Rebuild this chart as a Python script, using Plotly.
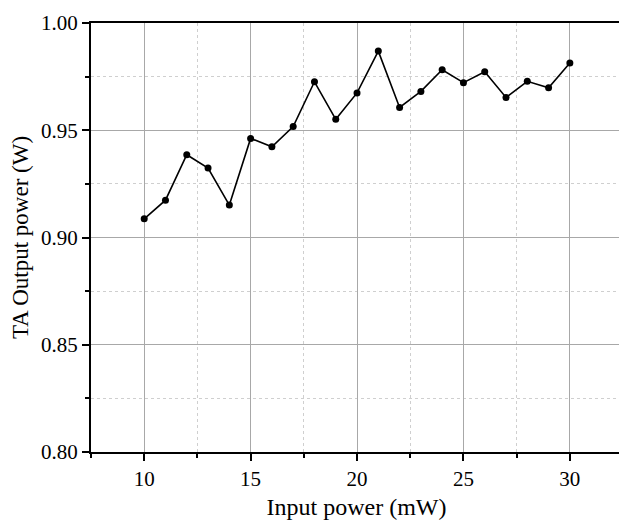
import plotly.graph_objects as go

input_power = [10, 11, 12, 13, 14, 15, 16, 17, 18, 19, 20,
               21, 22, 23, 24, 25, 26, 27, 28, 29, 30]
output_power = [0.9087, 0.9174, 0.9386, 0.9324, 0.9151, 0.9462, 0.9423, 0.9517,
                0.9726, 0.9551, 0.9674, 0.9869, 0.9606, 0.9681, 0.9782, 0.9722,
                0.9773, 0.9653, 0.9728, 0.9698, 0.9814]

font_family = "Liberation Serif"

fig = go.Figure()
fig.add_trace(go.Scatter(
    x=input_power, y=output_power, mode="lines+markers",
    line=dict(color="black", width=1.6),
    marker=dict(color="black", size=7),
    showlegend=False,
))

axis_common = dict(
    showline=True, linecolor="black", linewidth=2, mirror=True,
    ticks="outside", ticklen=7, tickwidth=1.5, tickcolor="black",
    showgrid=True, gridcolor="#a8a8a8", gridwidth=1,
    zeroline=False,
    tickfont=dict(family=font_family, size=21, color="black"),
    minor=dict(ticks="outside", ticklen=4, tickwidth=1.5, tickcolor="black",
               showgrid=True, gridcolor="#cfcfcf", griddash="dot", gridwidth=1),
)

fig.update_xaxes(range=[7.5, 32.45], dtick=5, tick0=0,
                 title=dict(text="Input power (mW)", font=dict(family=font_family, size=24, color="black"),
                            standoff=8),
                 **axis_common)
fig.update_xaxes(minor_dtick=2.5)
fig.update_yaxes(range=[0.8, 1.0], dtick=0.05, tick0=0, tickformat=".2f",
                 title=dict(text="TA Output power (W)", font=dict(family=font_family, size=23, color="black"),
                            standoff=6),
                 **axis_common)
fig.update_yaxes(minor_dtick=0.025)

fig.update_layout(
    width=619, height=512,
    margin=dict(l=83, r=3, t=13, b=68),
    paper_bgcolor="white", plot_bgcolor="white",
    font=dict(family=font_family, color="black"),
)

fig.write_html("out.html")
